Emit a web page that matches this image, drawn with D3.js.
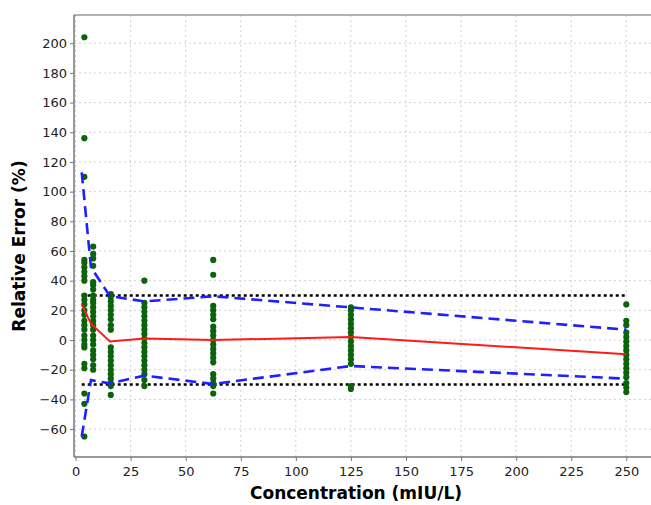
<!DOCTYPE html>
<html>
<head>
<meta charset="utf-8">
<script src="https://cdn.jsdelivr.net/npm/d3@7"></script>
<style>
  body { margin: 0; background: #fff; }
  text { font-family: "DejaVu Sans", sans-serif; }
</style>
</head>
<body>
<svg id="mainsvg" width="651" height="505"></svg>
<script>
// nominal concentrations of the sample columns
const conc = [4, 8, 16, 31.25, 62.5, 125, 250];
// relative errors (%) per column
const errors = [
  [204, 136, 110, 54, 52, 49, 46, 43, 40, 30, 27, 24, 20, 17, 13, 10, 7, 3, 0, -3, -5, -16, -19, -36, -43, -65],
  [63, 58, 55, 50, 39, 37, 34, 30, 27, 25, 22, 19, 16, 13, 10, 7, 3, 0, -3, -7, -10, -13, -17, -20],
  [31, 29, 26, 23, 20, 17, 14, 10, 7, -5, -8, -11, -14, -17, -20, -23, -26, -29, -31, -37],
  [40, 25, 22, 19, 16, 13, 10, 7, 4, 1, -2, -5, -8, -11, -14, -17, -20, -23, -27, -31],
  [54, 44, 23, 20, 17, 14, 9, 6, 3, 0, -3, -6, -9, -12, -15, -23, -26, -29, -31, -36],
  [22, 20, 17, 14, 11, 8, 5, 2, -1, -4, -7, -10, -13, -16, -31, -33],
  [24, 13, 10, 5, 2, -1, -4, -7, -10, -13, -16, -19, -22, -25, -29, -32, -35]
];
// profile curves (x at mean measured concentration)
const lineConc = [2.8, 7.0, 15.6, 31.25, 62.5, 125, 250];
const meanErr = [24, 11, -1, 1, 0, 2, -9.5];
const upperErr = [113, 49, 29.6, 26, 29.5, 22, 7];
const lowerErr = [-65, -27, -29.2, -24, -29.6, -17.5, -26];
const limits = [30, -30];

const xTicks = d3.range(0, 251, 25);
const yTicks = d3.range(-60, 201, 20);

const svg = d3.select("#mainsvg");
const pLeft = 74, pTop = 15, pBottom = 457, pRight = 660;

const x = d3.scaleLinear().domain([-0.7, 265.3]).range([pLeft, pRight]);
const y = d3.scaleLinear().domain([-78.8, 219]).range([pBottom, pTop]);

// grid
const grid = svg.append("g");
grid.selectAll(".gx").data(xTicks).enter().append("line")
  .attr("x1", d => x(d)).attr("x2", d => x(d))
  .attr("y1", pTop).attr("y2", pBottom)
  .style("stroke", "#d0d0d0").style("stroke-dasharray", "2,3");
grid.selectAll(".gy").data(yTicks).enter().append("line")
  .attr("x1", pLeft).attr("x2", pRight)
  .attr("y1", d => y(d)).attr("y2", d => y(d))
  .style("stroke", "#d0d0d0").style("stroke-dasharray", "2,3");

// axes
const xAxis = svg.append("g").attr("transform", `translate(0,${pBottom})`)
  .call(d3.axisBottom(x).tickValues(xTicks).tickSize(4).tickPadding(6));
const yAxis = svg.append("g").attr("transform", `translate(${pLeft},0)`)
  .call(d3.axisLeft(y).tickValues(yTicks).tickSize(4).tickPadding(3));
[xAxis, yAxis].forEach(a => {
  a.select(".domain").remove();
  a.selectAll(".tick line").style("stroke", "#777");
  a.selectAll(".tick text").style("font-size", "13px").style("fill", "#222")
    .style("font-family", "'DejaVu Sans', sans-serif");
});
svg.append("line").attr("x1", pLeft).attr("x2", pLeft).attr("y1", pTop).attr("y2", pBottom)
  .style("stroke", "#777").style("stroke-width", 1.5);
svg.append("line").attr("x1", pLeft).attr("x2", pRight).attr("y1", pBottom).attr("y2", pBottom)
  .style("stroke", "#777").style("stroke-width", 1.5);
svg.append("line").attr("x1", pLeft).attr("x2", pRight).attr("y1", pTop).attr("y2", pTop)
  .style("stroke", "#666").style("stroke-width", 1.2);

// acceptance limits
limits.forEach(v => {
  svg.append("line")
    .attr("x1", x(lineConc[0])).attr("x2", x(250))
    .attr("y1", y(v)).attr("y2", y(v))
    .style("stroke", "#000").style("stroke-width", 2.5)
    .style("stroke-dasharray", "3,3");
});

// points
const pts = [];
conc.forEach((c, i) => errors[i].forEach(e => pts.push({c: c, e: e})));
svg.append("g").selectAll("circle").data(pts).enter().append("circle")
  .attr("cx", d => x(d.c)).attr("cy", d => y(d.e)).attr("r", 3.1)
  .style("fill", "#0c630c");

const line = d3.line().x(d => x(d[0])).y(d => y(d[1]));
[upperErr, lowerErr].forEach(arr => {
  svg.append("path")
    .datum(lineConc.map((c, i) => [c, arr[i]]))
    .attr("d", line)
    .style("fill", "none").style("stroke", "#1f1fff").style("stroke-width", 2.6)
    .style("stroke-dasharray", "11,6");
});
svg.append("path")
  .datum(lineConc.map((c, i) => [c, meanErr[i]]))
  .attr("d", line)
  .style("fill", "none").style("stroke", "#ff1a1a").style("stroke-width", 2);

// titles
svg.append("text").attr("x", 356).attr("y", 499)
  .attr("text-anchor", "middle").style("font-weight", "bold").style("font-size", "17px")
  .text("Concentration (mIU/L)");
svg.append("text").attr("transform", "translate(25,246) rotate(-90)")
  .attr("text-anchor", "middle").style("font-weight", "bold").style("font-size", "17px")
  .text("Relative Error (%)");
</script>
</body>
</html>
